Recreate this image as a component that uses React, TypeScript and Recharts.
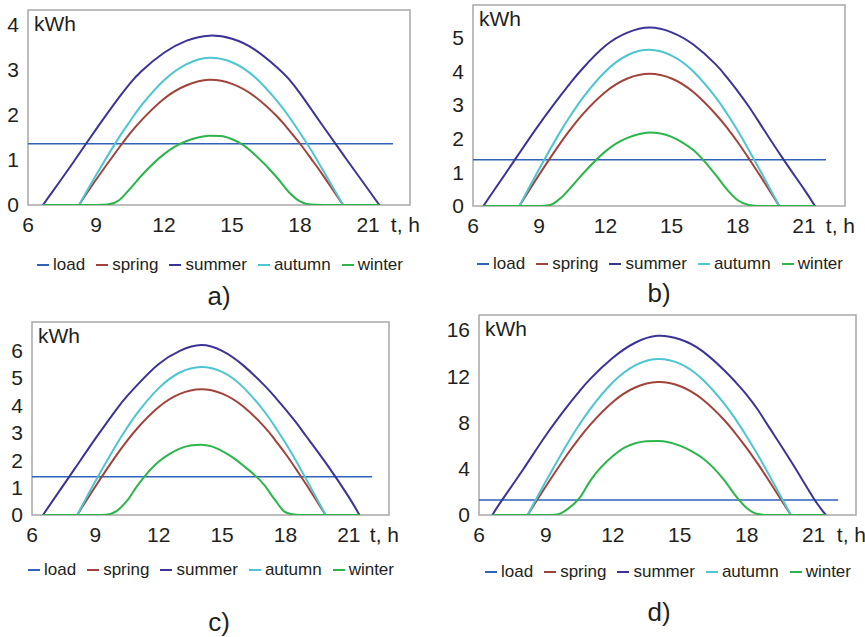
import React from "react"
import { LineChart, Line, XAxis, YAxis, ReferenceArea, Legend } from "recharts"

const hours = [7, 8, 9, 9.5, 10, 10.5, 11, 12, 12.5, 13, 13.5, 14, 14.5, 15, 15.5, 16, 17, 17.5, 18, 18.5, 19, 20, 21]
const xTicks = [6, 9, 12, 15, 18, 21]
const seriesNames = ["load", "spring", "summer", "autumn", "winter"]

// a)
const loadA = 1.36
const summerA = [0.24, 0.95, 1.68, null, 2.38, 2.7, 2.97, 3.38, null, 3.65, null, 3.76, null, 3.69, null, 3.45, 3.05, 2.8, 2.48, 2.12, 1.76, 1.05, 0.35]
const springA = [null, null, 0.56, null, 1.26, 1.59, 1.88, 2.36, null, 2.66, null, 2.78, null, 2.69, null, 2.41, 1.96, 1.67, 1.36, 1.02, 0.67, null, null]
const autumnA = [null, null, 0.66, null, 1.49, 1.86, 2.21, 2.77, null, 3.13, null, 3.27, null, 3.17, null, 2.84, 2.3, 1.97, 1.6, 1.21, 0.78, null, null]
const winterA = [0, 0, 0, 0.01, 0.1, 0.36, 0.65, 1.13, 1.3, 1.42, 1.5, 1.54, 1.53, 1.46, 1.33, 1.12, 0.6, 0.29, 0.08, 0.01, 0, 0, 0]

// b)
const loadB = 1.37
const summerB = [0.51, 1.47, 2.42, null, 3.3, 3.72, 4.1, 4.75, null, 5.14, null, 5.29, null, 5.15, null, 4.78, 4.2, 3.82, 3.4, 2.95, 2.45, 1.45, 0.5]
const springB = [null, null, 0.93, null, 1.9, 2.34, 2.74, 3.38, null, 3.78, null, 3.92, null, 3.78, null, 3.37, 2.72, 2.33, 1.89, 1.41, 0.91, null, null]
const autumnB = [null, null, 1.1, null, 2.25, 2.76, 3.23, 3.99, null, 4.47, null, 4.63, null, 4.46, null, 3.98, 3.22, 2.75, 2.23, 1.66, 1.07, null, null]
const winterB = [0, 0, 0, 0.03, 0.25, 0.6, 0.97, 1.62, 1.86, 2.02, 2.13, 2.18, 2.15, 2.05, 1.88, 1.65, 0.92, 0.5, 0.17, 0.03, 0, 0, 0]

// c)
const loadC = 1.39
const summerC = [0.54, 1.66, 2.78, null, 3.85, 4.33, 4.75, 5.5, null, 5.98, null, 6.19, null, 5.98, null, 5.45, 4.72, 4.3, 3.85, 3.37, 2.85, 1.8, 0.65]
const springC = [null, null, 1.04, null, 2.18, 2.7, 3.17, 3.93, null, 4.41, null, 4.58, null, 4.42, null, 3.95, 3.21, 2.74, 2.23, 1.67, 1.09, null, null]
const autumnC = [null, null, 1.23, null, 2.57, 3.18, 3.73, 4.62, null, 5.19, null, 5.39, null, 5.21, null, 4.65, 3.77, 3.22, 2.62, 1.97, 1.28, null, null]
const winterC = [0, 0, 0, 0.01, 0.14, 0.52, 1.08, 1.95, 2.22, 2.42, 2.53, 2.56, 2.5, 2.33, 2.1, 1.8, 1.09, 0.55, 0.1, 0.01, 0, 0, 0]

// d)
const loadD = 1.3
const summerD = [1.2, 4.0, 6.9, null, 9.5, 10.7, 11.8, 13.6, null, 14.9, null, 15.5, null, 15.2, null, 14.2, 12.5, 11.5, 10.4, 9.1, 7.6, 4.6, 1.45]
const springD = [null, null, 2.49, null, 5.36, 6.66, 7.84, 9.78, null, 11.03, null, 11.5, null, 11.16, null, 10.03, 8.2, 7.05, 5.79, 4.42, 2.96, null, null]
const autumnD = [null, null, 2.92, null, 6.29, 7.82, 9.21, 11.48, null, 12.95, null, 13.5, null, 13.1, null, 11.77, 9.62, 8.28, 6.79, 5.18, 3.48, null, null]
const winterD = [0, 0, 0, 0.05, 0.55, 1.45, 3.0, 5.1, 5.8, 6.2, 6.38, 6.4, 6.3, 6.0, 5.55, 4.95, 3.0, 1.67, 0.6, 0.08, 0, 0, 0]

// sunrise / sunset (curve ends) and end of the load line, per panel a-d
const summerRise = [6.66, 6.47, 6.52, 6.6]
const summerSet = [21.5, 21.5, 21.5, 21.55]
const springRise = [8.25, 8.1, 8.14, 8.18]
const springSet = [19.9, 19.88, 19.9, 19.98]
const loadEnd = [22.1, 22.0, 22.1, 22.1]

const yTicksA = [0, 1, 2, 3, 4]
const yTicksB = [0, 1, 2, 3, 4, 5]
const yTicksC = [0, 1, 2, 3, 4, 5, 6]
const yTicksD = [0, 4, 8, 12, 16]

const colors = {
  load: "#2f62b8",
  spring: "#a2433b",
  summer: "#3b3497",
  autumn: "#4dc5d3",
  winter: "#2cb54a",
}
const textColor = "#231f20"
const frameColor = "#a8a8a8"

function buildRows(i, load, summer, spring, autumn, winter) {
  const rows = hours.map((t, k) => ({
    t,
    summer: summer[k],
    spring: spring[k],
    autumn: autumn[k],
    winter: winter[k],
  }))
  rows.push({ t: 6, load })
  rows.push({ t: loadEnd[i], load })
  rows.push({ t: summerRise[i], summer: 0, winter: 0 })
  rows.push({ t: summerSet[i], summer: 0, winter: 0 })
  rows.push({ t: springRise[i], spring: 0, autumn: 0 })
  rows.push({ t: springSet[i], spring: 0, autumn: 0 })
  return rows.sort((a, b) => a.t - b.t)
}

const panels = [
  {
    caption: "a)", rows: buildRows(0, loadA, summerA, springA, autumnA, winterA),
    left: 0, top: 0, width: 430, height: 290, box: [28, 10, 410, 205],
    xMax: 22.85, yMax: 4.33, yTicks: yTicksA, legend: [37, 253], cap: [219, 296],
  },
  {
    caption: "b)", rows: buildRows(1, loadB, summerB, springB, autumnB, winterB),
    left: 435, top: 0, width: 430, height: 290, box: [473, 5, 845, 206],
    xMax: 22.86, yMax: 5.96, yTicks: yTicksB, legend: [477, 252], cap: [659, 293],
  },
  {
    caption: "c)", rows: buildRows(2, loadC, summerC, springC, autumnC, winterC),
    left: 0, top: 310, width: 430, height: 280, box: [32, 322, 389, 515],
    xMax: 22.9, yMax: 7.03, yTicks: yTicksC, legend: [28, 558], cap: [219, 622],
  },
  {
    caption: "d)", rows: buildRows(3, loadD, summerD, springD, autumnD, winterD),
    left: 435, top: 310, width: 430, height: 280, box: [479, 315, 856, 515],
    xMax: 22.9, yMax: 17.3, yTicks: yTicksD, legend: [485, 560], cap: [659, 612],
  },
]

const LegendRow = (props) => {
  const items = [...(props.payload || [])].sort(
    (a, b) => seriesNames.indexOf(a.value) - seriesNames.indexOf(b.value)
  )
  return (
    <div
      style={{
        display: "flex",
        justifyContent: "space-between",
        alignItems: "center",
        width: 366,
        height: 24,
        fontSize: 17,
        color: textColor,
      }}
    >
      {items.map((e) => (
        <span key={e.value} style={{ display: "flex", alignItems: "center" }}>
          <span style={{ display: "inline-block", width: 12, height: 2, background: e.color, marginRight: 4 }} />
          {e.value}
        </span>
      ))}
    </div>
  )
}

function Panel({ p }) {
  const [x0, y0, x1, y1] = p.box
  const axisH = 40
  const margin = {
    top: y0 - p.top,
    left: 0,
    right: p.left + p.width - x1,
    bottom: p.top + p.height - y1 - axisH,
  }
  const seasonLine = { strokeWidth: 2, dot: false, activeDot: false, connectNulls: true, isAnimationActive: false }
  return (
    <div style={{ position: "absolute", left: p.left, top: p.top }}>
      <LineChart width={p.width} height={p.height} data={p.rows} margin={margin}>
        <ReferenceArea
          x1={6}
          x2={p.xMax}
          y1={0}
          y2={p.yMax}
          fill="none"
          stroke={frameColor}
          strokeWidth={1.5}
          label={{ value: "kWh", position: "insideTopLeft", offset: 6, fontSize: 21, fill: textColor }}
        />
        <XAxis
          type="number"
          dataKey="t"
          domain={[6, p.xMax]}
          ticks={xTicks}
          interval={0}
          allowDataOverflow
          axisLine={false}
          tickLine={false}
          tickSize={0}
          tickMargin={12}
          height={axisH}
          tick={{ fontSize: 21, fill: textColor }}
          label={{ value: "t, h", position: "insideRight", offset: -10, fontSize: 21, fill: textColor }}
        />
        <YAxis
          type="number"
          domain={[0, p.yMax]}
          ticks={p.yTicks}
          interval={0}
          allowDataOverflow
          axisLine={false}
          tickLine={false}
          tickSize={0}
          tickMargin={9}
          width={x0 - p.left}
          tick={{ fontSize: 21, fill: textColor }}
        />
        <Line dataKey="load" name={seriesNames[0]} stroke={colors.load} strokeWidth={1.5} dot={false} activeDot={false} connectNulls isAnimationActive={false} />
        <Line type="natural" dataKey="spring" name={seriesNames[1]} stroke={colors.spring} {...seasonLine} />
        <Line type="natural" dataKey="summer" name={seriesNames[2]} stroke={colors.summer} {...seasonLine} />
        <Line type="natural" dataKey="autumn" name={seriesNames[3]} stroke={colors.autumn} {...seasonLine} />
        <Line type="monotone" dataKey="winter" name={seriesNames[4]} stroke={colors.winter} {...seasonLine} />
        <Legend
          layout="horizontal"
          verticalAlign="middle"
          align="center"
          content={<LegendRow />}
          wrapperStyle={{ top: p.legend[1] - p.top, left: p.legend[0] - p.left, width: "auto" }}
        />
      </LineChart>
    </div>
  )
}

export default function App() {
  return (
    <div
      style={{
        position: "absolute",
        left: 0,
        top: 0,
        width: 865,
        height: 637,
        background: "#fff",
        fontFamily: "'Liberation Sans', Arial, Helvetica, sans-serif",
        color: textColor,
      }}
    >
      {panels.map((p) => (
        <React.Fragment key={p.caption}>
          <Panel p={p} />
          <div
            style={{
              position: "absolute",
              left: p.cap[0],
              top: p.cap[1],
              transform: "translate(-50%, -50%)",
              fontSize: 26,
              lineHeight: 1,
            }}
          >
            {p.caption}
          </div>
        </React.Fragment>
      ))}
    </div>
  )
}
